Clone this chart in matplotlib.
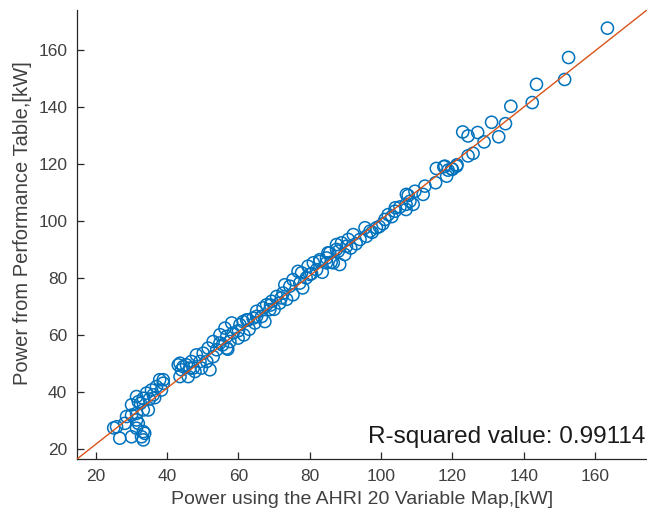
import matplotlib
matplotlib.use("Agg")
import matplotlib.pyplot as plt
import numpy as np

plt.rcParams['font.family'] = ['Liberation Sans', 'DejaVu Sans']

# scatter data: AHRI map power vs performance table power [kW]
ahri_kw = [
    163.5, 152.6, 151.5, 143.6, 142.4, 136.4, 134.9, 131.0, 133.0, 128.9,
    127.1, 122.9, 124.4, 125.8, 124.4, 121.3, 120.0, 118.8, 117.6, 115.5,
    118.4, 115.3, 117.9, 119.8, 121.2, 112.3, 111.8, 109.5, 107.6, 108.1,
    107.0, 109.0, 105.3, 104.0, 107.1, 107.0, 103.9, 102.0, 101.1, 98.7,
    96.9, 95.5, 95.9, 94.1, 92.2, 90.8, 88.9, 87.5, 90.3, 88.0,
    89.8, 85.6, 84.7, 82.8, 81.0, 86.6, 88.4, 87.5, 85.1, 84.7,
    82.8, 81.9, 79.5, 80.0, 77.7, 76.7, 77.2, 75.3, 74.4, 73.0,
    75.3, 72.5, 70.7, 71.6, 69.3, 67.9, 66.9, 68.8, 65.1, 66.5,
    64.1, 62.7, 61.3, 64.6, 60.4, 67.4, 65.1, 62.3, 58.1, 58.5,
    56.2, 56.7, 54.8, 59.9, 57.6, 54.8, 52.9, 56.7, 53.9, 51.5,
    50.1, 52.9, 48.2, 51.1, 49.2, 46.8, 45.4, 47.3, 49.6, 44.0,
    43.6, 52.0, 38.9, 43.1, 44.5, 46.4, 47.8, 43.6, 45.9, 37.9,
    38.9, 37.0, 38.4, 35.6, 36.1, 34.2, 33.3, 31.4, 31.9, 30.0,
    34.7, 33.3, 31.4, 30.0, 31.4, 28.6, 31.9, 28.1, 25.8, 31.4,
    33.3, 32.8, 30.0, 26.7, 33.3, 33.7, 25.0, 35.0, 36.5, 32.5,
    60.0, 63.0, 70.0, 73.5, 79.0, 83.5, 86.0, 91.5, 93.0, 99.5,
    55.5, 57.0, 61.5, 69.0, 72.0, 78.0, 80.5, 97.5, 100.5, 103.0,
]
table_kw = [
    167.6, 157.3, 149.6, 147.9, 141.5, 140.2, 134.1, 134.6, 129.5, 127.7,
    131.0, 131.2, 129.8, 123.7, 122.8, 119.7, 118.1, 117.8, 119.0, 118.4,
    115.7, 113.4, 119.2, 118.3, 119.2, 112.2, 109.3, 110.4, 108.9, 106.9,
    105.8, 105.8, 104.9, 104.6, 109.3, 104.0, 103.4, 102.2, 100.5, 97.6,
    96.4, 97.6, 94.6, 93.5, 95.2, 93.5, 92.3, 91.7, 91.1, 89.4,
    88.2, 88.8, 87.0, 85.8, 85.3, 85.3, 84.7, 90.0, 88.8, 85.3,
    86.4, 82.9, 84.1, 81.2, 81.8, 82.3, 78.2, 79.4, 77.1, 77.6,
    74.1, 74.7, 73.5, 71.2, 71.8, 70.6, 69.5, 68.9, 68.3, 66.5,
    65.9, 65.3, 64.7, 64.2, 63.6, 64.7, 66.5, 65.3, 64.2, 60.7,
    62.4, 59.5, 60.1, 58.9, 57.7, 57.2, 57.7, 55.4, 54.8, 55.4,
    53.6, 52.4, 53.0, 50.7, 50.7, 50.7, 49.5, 48.4, 48.4, 47.8,
    50.1, 47.8, 44.3, 49.5, 48.9, 48.4, 47.2, 45.4, 45.4, 44.3,
    43.1, 41.9, 40.7, 40.7, 39.0, 39.6, 37.8, 38.4, 36.6, 35.5,
    33.7, 33.7, 32.5, 31.9, 30.2, 31.4, 29.0, 29.0, 27.8, 27.3,
    26.1, 24.3, 24.3, 23.8, 23.2, 25.5, 27.4, 37.5, 38.0, 36.0,
    61.5, 62.0, 69.0, 72.5, 80.0, 82.0, 85.5, 90.5, 92.0, 98.0,
    56.5, 55.0, 60.0, 70.5, 73.0, 76.5, 81.5, 96.0, 99.0, 101.5,
]

# fitted line (y = slope * x + intercept)
fit_slope = 0.985
fit_intercept = 2.0
x_limits = [14.7, 174.6]
y_limits = [16.5, 174.0]
r_squared = 0.99114

fig = plt.figure(figsize=(6.47, 5.21), dpi=100)
ax = fig.add_axes([0.119, 0.119, 0.881, 0.862])

ax.scatter(ahri_kw, table_kw, s=76, facecolors='none', edgecolors='#0072BD',
           linewidths=1.1, zorder=2)
fit_x = np.array(x_limits)
ax.plot(fit_x, fit_slope * fit_x + fit_intercept, color='#D95319', linewidth=1.0, zorder=3)

ax.set_xlim(x_limits)
ax.set_ylim(y_limits)
ax.set_xticks(range(20, 161, 20))
ax.set_yticks(range(20, 161, 20))

for side in ['top', 'right']:
    ax.spines[side].set_visible(False)
for side in ['left', 'bottom']:
    ax.spines[side].set_color('#262626')
    ax.spines[side].set_linewidth(0.9)
ax.tick_params(direction='in', length=5, width=0.9, colors='#262626',
               labelsize=12.5, labelcolor='#404040', pad=7)

ax.set_xlabel('Power using the AHRI 20 Variable Map,[kW]', fontsize=14, color='#404040', labelpad=5)
ax.set_ylabel('Power from Performance Table,[kW]', fontsize=14.5, color='#404040')
ax.yaxis.set_label_coords(-0.079, 0.526)

ax.text(0.997, 0.025, f'R-squared value: {r_squared}', transform=ax.transAxes,
        ha='right', va='bottom', fontsize=17.5, color='#1a1a1a')

fig.savefig('out.png', dpi=100)
